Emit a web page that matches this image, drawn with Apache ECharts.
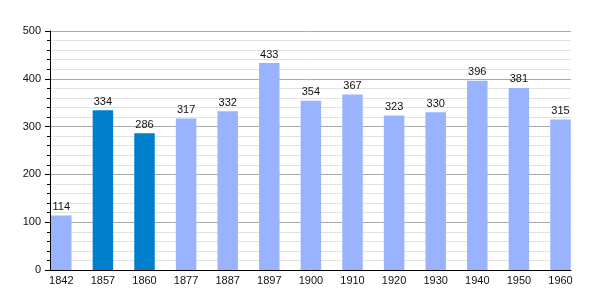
<!DOCTYPE html>
<html><head><meta charset="utf-8">
<script src="https://cdn.jsdelivr.net/npm/echarts@6/dist/echarts.min.js"></script>
<style>html,body{margin:0;padding:0;background:#fff}#c{width:600px;height:300px}</style>
</head><body><div id="c"></div>
<script>
const years = ['1842','1857','1860','1877','1887','1897','1900','1910','1920','1930','1940','1950','1960'];
const population = [114,334,286,317,332,433,354,367,323,330,396,381,315];
const highlighted = ['1857','1860'];
const yTicks = [0,100,200,300,400,500];

const lightColor = '#99b3ff';
const darkColor = '#0080cc';
const font = 'Liberation Sans, Arial, sans-serif';

const chart = echarts.init(document.getElementById('c'), null, {renderer:'canvas'});
chart.setOption({
  animation:false,
  backgroundColor:'#fff',
  grid:[
    {left:50, right:29, top:31, bottom:30},
    {left:40.5, right:18.7, top:31, bottom:30}
  ],
  xAxis:[
    {gridIndex:0, type:'category', data:years, boundaryGap:true,
     axisLine:{lineStyle:{color:'#000', width:1}}, axisTick:{show:false}, axisLabel:{show:false}, splitLine:{show:false}},
    {gridIndex:1, type:'category', data:years, boundaryGap:true,
     axisLine:{show:false}, axisTick:{show:false},
     axisLabel:{show:true, interval:0, color:'#111', fontSize:11, fontFamily:font, margin:5}}
  ],
  yAxis:[
    {gridIndex:0, type:'value', min:yTicks[0], max:yTicks[yTicks.length-1], interval:100,
     axisLine:{show:true, lineStyle:{color:'#000'}},
     axisTick:{show:true, length:5, lineStyle:{color:'#000'}},
     minorTick:{show:true, splitNumber:5, length:3, lineStyle:{color:'#000'}},
     splitLine:{show:true, lineStyle:{color:'#aaaaaa', width:1}},
     minorSplitLine:{show:true, lineStyle:{color:'#e2e2e2', width:1}},
     axisLabel:{color:'#111', fontSize:11, fontFamily:font, margin:9}},
    {gridIndex:1, type:'value', min:yTicks[0], max:yTicks[yTicks.length-1], show:false}
  ],
  series:[{
    type:'bar', xAxisIndex:1, yAxisIndex:1, barWidth:20.5,
    data: population.map((v,i)=>({value:v, itemStyle:{color: highlighted.includes(years[i]) ? darkColor : lightColor}})),
    label:{show:true, position:'top', distance:3, color:'#111', fontSize:11, fontFamily:font}
  }]
});
</script></body></html>
